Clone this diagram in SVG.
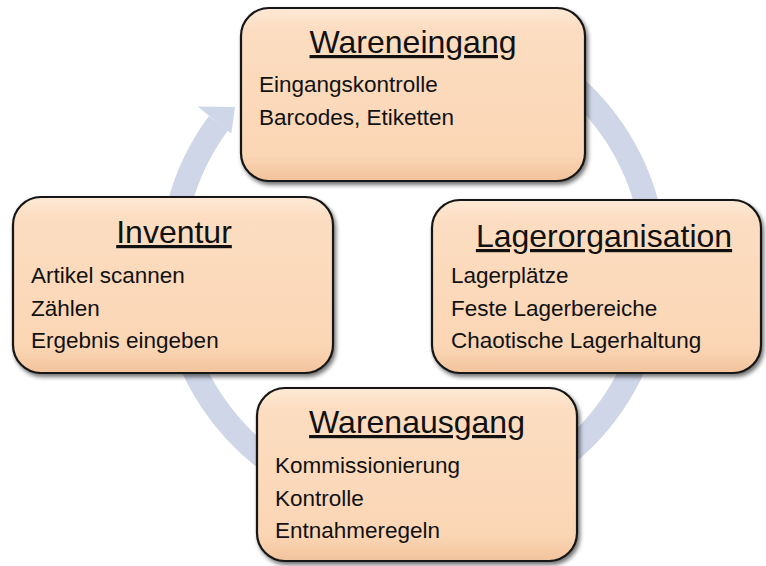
<svg xmlns="http://www.w3.org/2000/svg" width="766" height="566" viewBox="0 0 766 566">
<defs>
<linearGradient id="peach" x1="0" y1="0" x2="0" y2="1">
<stop offset="0" stop-color="#FEE9D6"/>
<stop offset="0.12" stop-color="#FCDDC1"/>
<stop offset="0.85" stop-color="#FBD6B5"/>
<stop offset="1" stop-color="#F2C39C"/>
</linearGradient>
<filter id="sh" x="-10%" y="-10%" width="125%" height="125%">
<feDropShadow dx="2" dy="3" stdDeviation="2" flood-color="#000" flood-opacity="0.55"/>
</filter>
<style>
.box{fill:url(#peach);stroke:#141414;stroke-width:2.2;filter:url(#sh)}
.hl{fill:none;stroke:#FFF4E8;stroke-width:2;opacity:0.7}
.title{font-family:"Liberation Sans",Arial,sans-serif;font-size:32px;fill:#111;text-anchor:middle;text-decoration:underline}
.item{font-family:"Liberation Sans",Arial,sans-serif;font-size:22.5px;fill:#111}
.ring{fill:none;stroke:#CFD6E8;stroke-width:24}
.head{fill:#CFD6E8}
</style>
</defs>
<g id="connectors">
<path class="ring" d="M534,57.4 A242,242 0 1 1 218.5,123.1"/>
<polygon class="head" points="197.6,106.5 235,107 231.3,133.5"/>
</g>
<g id="wareneingang">
<rect class="box" x="241" y="8" width="344" height="173" rx="28"/>
<text class="title" x="413" y="53">Wareneingang</text>
<text class="item" x="259" y="92">Eingangskontrolle</text>
<text class="item" x="259" y="125">Barcodes, Etiketten</text>
</g>
<g id="inventur">
<rect class="box" x="13" y="197" width="320" height="176" rx="28"/>
<text class="title" x="174" y="243">Inventur</text>
<text class="item" x="31" y="283">Artikel scannen</text>
<text class="item" x="31" y="316">Zählen</text>
<text class="item" x="31" y="348">Ergebnis eingeben</text>
</g>
<g id="lagerorganisation">
<rect class="box" x="432" y="200" width="329" height="173" rx="28"/>
<text class="title" x="604" y="247">Lagerorganisation</text>
<text class="item" x="451" y="283">Lagerplätze</text>
<text class="item" x="451" y="316">Feste Lagerbereiche</text>
<text class="item" x="451" y="348">Chaotische Lagerhaltung</text>
</g>
<g id="warenausgang">
<rect class="box" x="257" y="388" width="320" height="173" rx="28"/>
<text class="title" x="417" y="433">Warenausgang</text>
<text class="item" x="275" y="473">Kommissionierung</text>
<text class="item" x="275" y="506">Kontrolle</text>
<text class="item" x="275" y="538">Entnahmeregeln</text>
</g>
</svg>
